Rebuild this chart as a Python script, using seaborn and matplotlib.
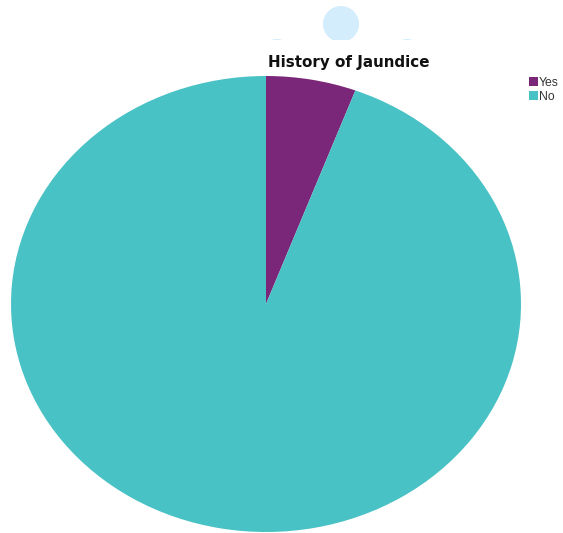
import matplotlib
matplotlib.use("Agg")
import matplotlib.pyplot as plt
import seaborn as sns
from matplotlib.patches import Patch, Circle

categories = ["Yes", "No"]
values = [5.7, 94.3]
colors = ["#7b2779", "#48c2c5"]
title = "History of Jaundice"

sns.set_theme(style="white")
plt.rcParams["font.family"] = ["Liberation Sans", "DejaVu Sans"]

W, H = 563, 533
fig = plt.figure(figsize=(W / 100, H / 100), dpi=100)
fig.patch.set_facecolor("white")

# decorative faint circles at top
deco = fig.add_axes([0, 1 - 40 / H, 1, 40 / H])
deco.set_xlim(0, W)
deco.set_ylim(40, 0)
deco.axis("off")
for (cx, cy, r) in [(341, 24, 18), (277, 56, 17), (407, 56, 17)]:
    deco.add_patch(Circle((cx, cy), r, color="#d3edfc", lw=0))

ax = fig.add_axes([11 / W, 1 - 532 / H, 510 / W, 456 / H])
ax.pie(values, colors=colors, startangle=90, counterclock=False,
       wedgeprops=dict(linewidth=0))
ax.set_aspect("auto")
ax.set_xlim(-1, 1)
ax.set_ylim(-1, 1)
ax.axis("off")

fig.text(349 / W, 1 - 63 / H, title, ha="center", va="center",
         fontsize=10.9, fontweight="bold", color="#111111", family="DejaVu Sans")

handles = [Patch(facecolor=c, edgecolor="none", label=l) for c, l in zip(colors, categories)]
fig.legend(handles=handles, loc="upper left", bbox_to_anchor=(529 / W, 1 - 77 / H),
           frameon=False, fontsize=8.8, handlelength=0.7, handleheight=0.7,
           handletextpad=0.12, labelspacing=0.15, borderpad=0, borderaxespad=0,
           labelcolor="#333333")

fig.savefig("out.png", dpi=100, facecolor="white")
